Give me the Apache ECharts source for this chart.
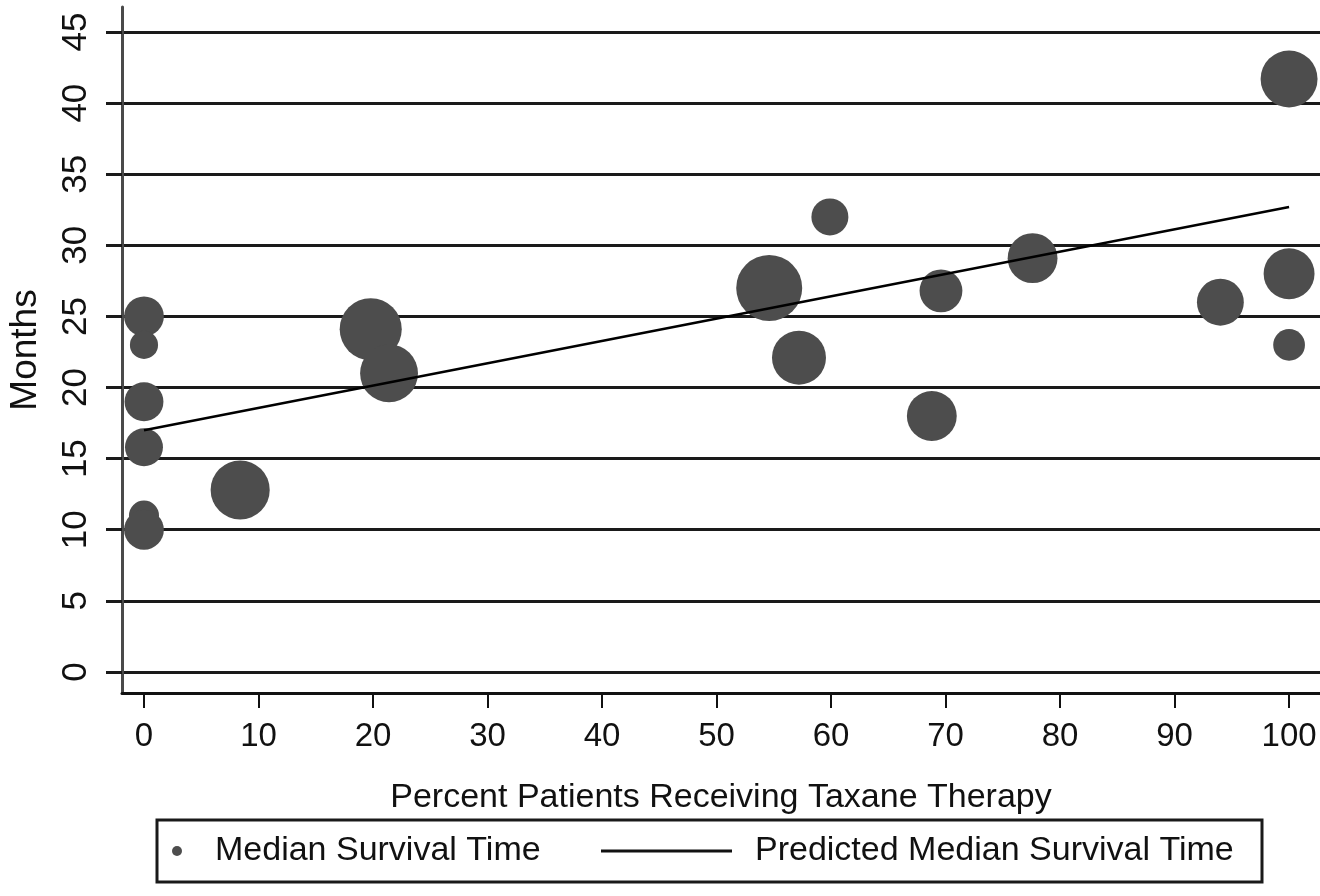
<!DOCTYPE html>
<html>
<head>
<meta charset="utf-8">
<title>Median Survival vs Taxane Therapy</title>
<script src="https://cdn.jsdelivr.net/npm/echarts@6/dist/echarts.min.js"></script>
<style>
  html, body { margin: 0; padding: 0; background: #fff; }
  #chart { width: 1320px; height: 896px; }
</style>
</head>
<body>
<div id="chart"></div>
<script>
// Study-level observations: percent of patients on taxane therapy vs. median survival (months)
const xPercent     = [0,  0,  0,  0,  0,  0,  8.4, 19.8, 21.4, 54.6, 57.2, 59.9, 68.8, 69.6, 77.6, 94.0, 100, 100, 100];
const monthsMedian = [25, 23, 19, 15.8, 11, 10, 12.8, 24.1, 21.0, 27.0, 22.1, 32.0, 18.0, 26.8, 29.1, 26.0, 41.7, 28.0, 23.0];
// Relative study weight (bubble area)
const studyWeight  = [44, 22, 42, 40, 25, 44, 97, 107, 93, 121, 81, 38, 69, 51, 69, 61, 90, 72, 28];

// Fitted regression line end points
const predX = [0, 100];
const predY = [17.0, 32.7];

// Tick labels
const xTicks = [0, 10, 20, 30, 40, 50, 60, 70, 80, 90, 100];
const yTicks = [0, 5, 10, 15, 20, 25, 30, 35, 40, 45];

const FONT = '"Liberation Sans", Arial, Helvetica, sans-serif';

const chart = echarts.init(document.getElementById('chart'), null, { renderer: 'canvas' });

chart.setOption({
  backgroundColor: '#ffffff',
  animation: false,
  grid: { left: 122, right: 0, top: 7, bottom: 203, containLabel: false, outerBoundsMode: 'none' },
  xAxis: {
    type: 'value',
    min: -1.92,
    max: 102.7,
    name: 'Percent Patients Receiving Taxane Therapy',
    nameLocation: 'middle',
    nameGap: 88,
    nameTextStyle: { fontFamily: FONT, fontSize: 34, color: '#111' },
    axisLine: { show: true, onZero: false, lineStyle: { color: '#111', width: 3 } },
    axisTick: { show: true, customValues: xTicks, length: 15, lineStyle: { color: '#111', width: 2 } },
    axisLabel: { customValues: xTicks, fontFamily: FONT, fontSize: 33, color: '#111', margin: 27 },
    splitLine: { show: false }
  },
  yAxis: {
    type: 'value',
    min: -1.48,
    max: 46.76,
    name: 'Months',
    nameLocation: 'middle',
    nameRotate: 90,
    nameGap: 78,
    nameTextStyle: { fontFamily: FONT, fontSize: 37, color: '#111' },
    axisLine: { show: true, onZero: false, lineStyle: { color: '#4a4a4a', width: 3 } },
    axisTick: { show: true, customValues: yTicks, length: 16, lineStyle: { color: '#1a1a1a', width: 3 } },
    axisLabel: { customValues: yTicks, rotate: 90, fontFamily: FONT, fontSize: 35, color: '#111', margin: 28 },
    splitLine: { show: true, lineStyle: { color: '#1a1a1a', width: 3 } }
  },
  legend: [
    {
      data: [{ name: 'Median Survival Time', icon: 'circle' }],
      left: 172, top: 831, padding: 0,
      itemWidth: 10, itemHeight: 10,
      textStyle: { fontFamily: FONT, fontSize: 34, color: '#111', lineHeight: 40, padding: [0, 0, 0, 28] }
    },
    {
      data: [{ name: 'Predicted Median Survival Time', icon: 'rect' }],
      left: 601, top: 831, padding: 0,
      itemWidth: 131, itemHeight: 3,
      itemStyle: { color: '#111' },
      textStyle: { fontFamily: FONT, fontSize: 34, color: '#111', lineHeight: 40, padding: [0, 0, 0, 18] }
    }
  ],
  graphic: [
    {
      type: 'rect',
      shape: { x: 157, y: 820, width: 1105, height: 62 },
      style: { fill: 'transparent', stroke: '#1a1a1a', lineWidth: 3 },
      silent: true
    }
  ],
  series: [
    {
      name: 'Median Survival Time',
      type: 'scatter',
      z: 3,
      data: xPercent.map((x, i) => [x, monthsMedian[i], studyWeight[i]]),
      symbol: 'circle',
      symbolSize: v => 6 * Math.sqrt(v[2]),
      itemStyle: { color: '#4d4d4d', opacity: 1 }
    },
    {
      name: 'Predicted Median Survival Time',
      type: 'line',
      z: 4,
      data: predX.map((x, i) => [x, predY[i]]),
      symbol: 'none',
      showSymbol: false,
      lineStyle: { color: '#000', width: 2.5 },
      itemStyle: { color: '#111' }
    }
  ]
});
</script>
</body>
</html>
